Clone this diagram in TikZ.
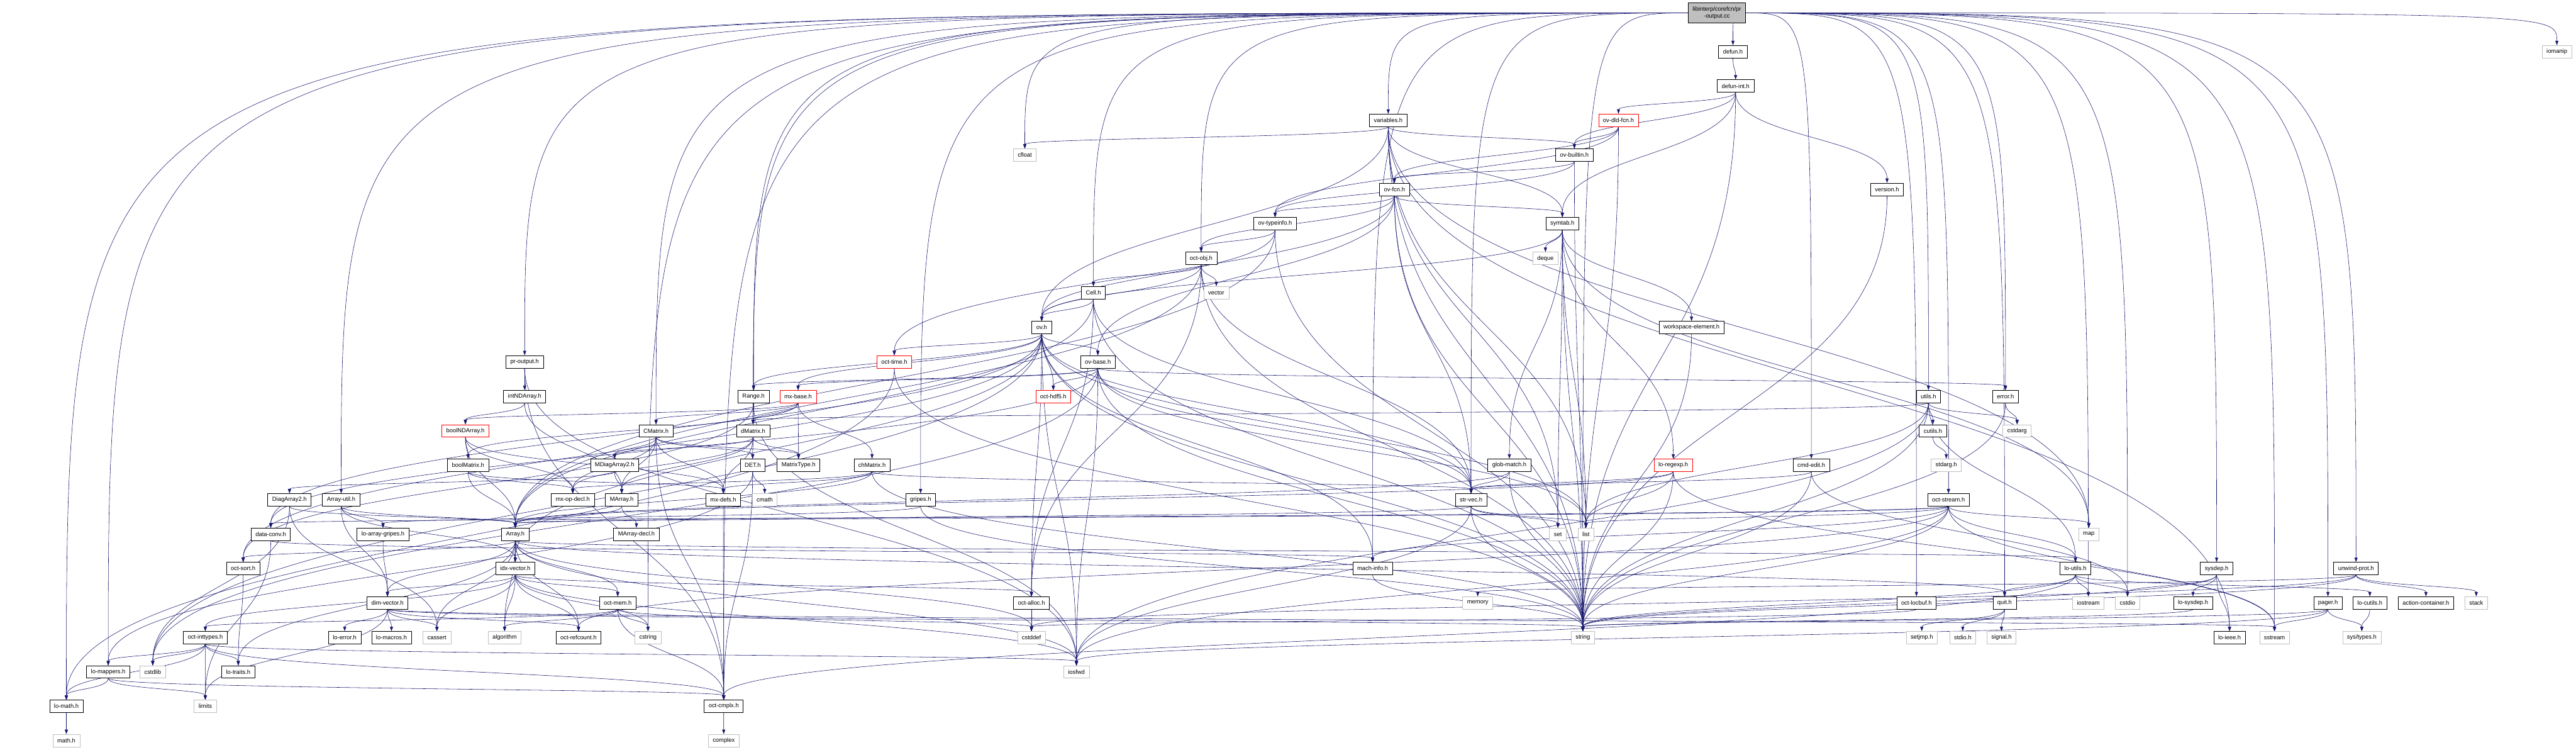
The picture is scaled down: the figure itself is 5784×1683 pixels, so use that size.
\documentclass[tikz,border=0pt]{standalone}
\usepackage{fontspec}
\setmainfont{Liberation Sans}
\usetikzlibrary{arrows.meta,calc}
\definecolor{edgeblue}{RGB}{25,25,112}
\definecolor{sysgray}{RGB}{191,191,191}
\pgfdeclarelayer{background}
\pgfsetlayers{background,main}

\begin{document}
\begin{tikzpicture}[x=1bp, y=-1bp,
  hdr/.style={draw=black, fill=white, line width=1bp, minimum height=28bp,
    inner xsep=10bp, inner ysep=0pt, font=\fontsize{13.3}{15}\selectfont},
  syshdr/.style={hdr, draw=sysgray},
  redhdr/.style={hdr, draw=red},
  srcfile/.style={hdr, fill=sysgray, align=center, minimum height=45bp},
  incl/.style={draw=edgeblue, line width=0.8bp, -{Triangle[length=10bp,width=7bp]},
    to path={(\tikztostart.south) .. controls ($(\tikztostart.south)!0.5!(\tikztostart.south |- \tikztotarget.north)$)
      and ($(\tikztotarget.north)!0.5!(\tikztotarget.north |- \tikztostart.south)$) .. (\tikztotarget.north)}},
  fromsrc/.style={draw=edgeblue, line width=0.8bp, -{Triangle[length=10bp,width=7bp]}}]
  \useasboundingbox (0,0) rectangle (5784,1683);

  % the file itself
  \node[srcfile] (src) at (3855,29) {libinterp/corefcn/pr\\-output.cc};
  % rows 1-6
  \node[hdr] (defun) at (3891,116) {defun.h};
  \node[syshdr] (iomanip) at (5741,116) {iomanip};
  \node[hdr] (defunint) at (3897,193) {defun-int.h};
  \node[hdr] (variables) at (3117,270) {variables.h};
  \node[redhdr] (ovdld) at (3634,270) {ov-dld-fcn.h};
  \node[syshdr] (cfloat) at (2301,348) {cfloat};
  \node[hdr] (ovbuiltin) at (3535,348) {ov-builtin.h};
  \node[hdr] (ovfcn) at (3131,425) {ov-fcn.h};
  \node[hdr] (version) at (4237,425) {version.h};
  \node[hdr] (ovtypeinfo) at (2863,502) {ov-typeinfo.h};
  \node[hdr] (symtab) at (3508,502) {symtab.h};
  % rows 7-10
  \node[hdr] (octobj) at (2697,580) {oct-obj.h};
  \node[syshdr] (deque) at (3470,580) {deque};
  \node[hdr] (cell) at (2455,657) {Cell.h};
  \node[syshdr] (vector) at (2731,657) {vector};
  \node[hdr] (ov) at (2339,735) {ov.h};
  \node[hdr] (workspace) at (3798,735) {workspace-element.h};
  \node[hdr] (proutput) at (1178,812) {pr-output.h};
  \node[redhdr] (octtime) at (2008,812) {oct-time.h};
  \node[hdr] (ovbase) at (2465,812) {ov-base.h};
  % rows 11-13
  \node[hdr] (intND) at (1178,890) {intNDArray.h};
  \node[hdr] (Range) at (1692,890) {Range.h};
  \node[redhdr] (mxbase) at (1792,890) {mx-base.h};
  \node[redhdr] (octhdf) at (2365,890) {oct-hdf5.h};
  \node[hdr] (utils) at (4330,890) {utils.h};
  \node[hdr] (error) at (4503,890) {error.h};
  \node[redhdr] (boolND) at (1045,967) {boolNDArray.h};
  \node[hdr] (CMatrix) at (1473,967) {CMatrix.h};
  \node[hdr] (dMatrix) at (1691,967) {dMatrix.h};
  \node[hdr] (cutils) at (4340,967) {cutils.h};
  \node[syshdr] (cstdarg) at (4529,967) {cstdarg};
  \node[hdr] (boolM) at (1051,1044) {boolMatrix.h};
  \node[hdr] (MDiag) at (1380,1044) {MDiagArray2.h};
  \node[hdr] (DET) at (1690,1044) {DET.h};
  \node[hdr] (MType) at (1793,1044) {MatrixType.h};
  \node[hdr] (chMatrix) at (1958,1044) {chMatrix.h};
  \node[hdr] (globmatch) at (3389,1044) {glob-match.h};
  \node[redhdr] (loregexp) at (3757,1044) {lo-regexp.h};
  \node[hdr] (cmdedit) at (4067,1044) {cmd-edit.h};
  \node[syshdr] (stdarg) at (4370,1044) {stdarg.h};
  % rows 14-16
  \node[hdr] (Diag) at (650,1122) {DiagArray2.h};
  \node[hdr] (ArrUtil) at (766,1122) {Array-util.h};
  \node[hdr] (mxopdecl) at (1286,1122) {mx-op-decl.h};
  \node[hdr] (MArray) at (1396,1122) {MArray.h};
  \node[hdr] (mxdefs) at (1624,1122) {mx-defs.h};
  \node[syshdr] (cmath) at (1717,1122) {cmath};
  \node[hdr] (gripes) at (2067,1122) {gripes.h};
  \node[hdr] (strvec) at (3303,1122) {str-vec.h};
  \node[hdr] (octstream) at (4375,1122) {oct-stream.h};
  \node[hdr] (dataconv) at (608,1199) {data-conv.h};
  \node[hdr] (loarrg) at (860,1199) {lo-array-gripes.h};
  \node[hdr] (Array) at (1157,1199) {Array.h};
  \node[hdr] (MArrdecl) at (1429,1199) {MArray-decl.h};
  \node[syshdr] (set) at (3498,1199) {set};
  \node[syshdr] (list) at (3561,1199) {list};
  \node[syshdr] (map) at (4690,1199) {map};
  \node[hdr] (octsort) at (546,1276) {oct-sort.h};
  \node[hdr] (idxvec) at (1157,1276) {idx-vector.h};
  \node[hdr] (machinfo) at (3082,1276) {mach-info.h};
  \node[hdr] (loutils) at (4660,1276) {lo-utils.h};
  \node[hdr] (sysdep) at (4977,1276) {sysdep.h};
  \node[hdr] (unwind) at (5290,1276) {unwind-prot.h};
  % row 17
  \node[hdr] (dimvec) at (870,1353) {dim-vector.h};
  \node[hdr] (octmem) at (1387,1353) {oct-mem.h};
  \node[hdr] (octalloc) at (2316,1353) {oct-alloc.h};
  \node[syshdr] (memory) at (3318,1353) {memory};
  \node[hdr] (octlocbuf) at (4303,1353) {oct-locbuf.h};
  \node[hdr] (quit) at (4501,1353) {quit.h};
  \node[syshdr] (iostream) at (4689,1353) {iostream};
  \node[syshdr] (cstdio) at (4777,1353) {cstdio};
  \node[hdr] (losysdep) at (4924,1353) {lo-sysdep.h};
  \node[hdr] (pager) at (5227,1353) {pager.h};
  \node[hdr] (locutils) at (5321,1353) {lo-cutils.h};
  \node[hdr] (actcont) at (5447,1353) {action-container.h};
  \node[syshdr] (stack) at (5560,1353) {stack};
  % row 18
  \node[hdr] (octint) at (461,1431) {oct-inttypes.h};
  \node[hdr] (loerror) at (774,1431) {lo-error.h};
  \node[hdr] (lomacros) at (879,1431) {lo-macros.h};
  \node[syshdr] (cassert) at (981,1431) {cassert};
  \node[syshdr] (algorithm) at (1133,1431) {algorithm};
  \node[hdr] (octref) at (1299,1431) {oct-refcount.h};
  \node[syshdr] (cstring) at (1455,1431) {cstring};
  \node[syshdr] (cstddef) at (2316,1431) {cstddef};
  \node[syshdr] (string) at (3554,1431) {string};
  \node[syshdr] (setjmp) at (4315,1431) {setjmp.h};
  \node[syshdr] (stdio) at (4407,1431) {stdio.h};
  \node[syshdr] (signal) at (4494,1431) {signal.h};
  \node[hdr] (loieee) at (5006,1431) {lo-ieee.h};
  \node[syshdr] (sstream) at (5107,1431) {sstream};
  \node[syshdr] (systypes) at (5303,1431) {sys/types.h};
  % rows 19-21
  \node[hdr] (lomappers) at (243,1508) {lo-mappers.h};
  \node[syshdr] (cstdlib) at (343,1508) {cstdlib};
  \node[hdr] (lotraits) at (535,1508) {lo-traits.h};
  \node[syshdr] (iosfwd) at (2417,1508) {iosfwd};
  \node[hdr] (lomath) at (149,1585) {lo-math.h};
  \node[syshdr] (limits) at (461,1585) {limits};
  \node[hdr] (octcmplx) at (1625,1585) {oct-cmplx.h};
  \node[syshdr] (mathh) at (149,1662) {math.h};
  \node[syshdr] (complex) at (1625,1662) {complex};

  \begin{pgfonlayer}{background}
    \fill[white] (0,0) rectangle (5784,1683);
    % includes of pr-output.cc
    \foreach \h in {defun, variables, cfloat, iomanip, cstdio, cstring, iostream, sstream, string,
        ArrUtil, CMatrix, Range, cmdedit, dMatrix, lomappers, lomath, machinfo, octcmplx, quit,
        strvec, cell, error, gripes, octobj, octstream, pager, proutput, sysdep, unwind, utils, octlocbuf}
      \draw[fromsrc] (src) .. controls (\h |- src) .. (\h);
    % header includes
    \foreach \h in {defunint} \draw[incl] (defun) to (\h);
    \foreach \h in {ovdld, ovbuiltin, symtab, version, string} \draw[incl] (defunint) to (\h);
    \foreach \h in {cfloat, ov, ovbuiltin, symtab, list, map, set, string, loieee} \draw[incl] (variables) to (\h);
    \foreach \h in {ovbuiltin, ovfcn, ovtypeinfo, string} \draw[incl] (ovdld) to (\h);
    \foreach \h in {ovfcn, ovtypeinfo, string} \draw[incl] (ovbuiltin) to (\h);
    \foreach \h in {ovtypeinfo, symtab, octobj, octtime, ovbase, strvec, string} \draw[incl] (ovfcn) to (\h);
    \foreach \h in {string} \draw[incl] (version) to (\h);
    \foreach \h in {octobj, ov, Array, string} \draw[incl] (ovtypeinfo) to (\h);
    \foreach \h in {deque, ov, workspace, globmatch, loregexp, list, map, set, string} \draw[incl] (symtab) to (\h);
    \foreach \h in {cell, vector, ov, strvec, Array, octalloc, string} \draw[incl] (octobj) to (\h);
    \foreach \h in {ov, strvec, Array, octalloc, string} \draw[incl] (cell) to (\h);
    \foreach \h in {octtime, ovbase, Range, mxbase, octhdf, strvec, dataconv, list, idxvec, machinfo,
        octsort, octalloc, string, cstdlib, iosfwd} \draw[incl] (ov) to (\h);
    \foreach \h in {string} \draw[incl] (workspace) to (\h);
    \foreach \h in {lomath, string} \draw[incl] (octtime) to (\h);
    \foreach \h in {Range, mxbase, octhdf, error, strvec, dataconv, list, string, cstdlib, iosfwd} \draw[incl] (ovbase) to (\h);
    \foreach \h in {intND, octcmplx, iosfwd} \draw[incl] (proutput) to (\h);
    \foreach \h in {boolND, MArray} \draw[incl] (intND) to (\h);
    \foreach \h in {dMatrix, octsort, iosfwd} \draw[incl] (Range) to (\h);
    \foreach \h in {boolND, CMatrix, dMatrix, boolM, MType, chMatrix} \draw[incl] (mxbase) to (\h);
    \foreach \h in {dMatrix, cutils, cstdarg, loutils, list, string, iosfwd} \draw[incl] (utils) to (\h);
    \foreach \h in {cstdarg, string} \draw[incl] (error) to (\h);
    \foreach \h in {boolM, mxopdecl, mxdefs, Array} \draw[incl] (boolND) to (\h);
    \foreach \h in {MDiag, DET, MType, MArray, mxopdecl, mxdefs, octcmplx} \draw[incl] (CMatrix) to (\h);
    \foreach \h in {MDiag, DET, MType, MArray, mxopdecl, mxdefs} \draw[incl] (dMatrix) to (\h);
    \foreach \h in {stdarg} \draw[incl] (cutils) to (\h);
    \foreach \h in {mxopdecl, mxdefs, Array} \draw[incl] (boolM) to (\h);
    \foreach \h in {Diag, MArray} \draw[incl] (MDiag) to (\h);
    \foreach \h in {cmath, lomappers, octcmplx} \draw[incl] (DET) to (\h);
    \foreach \h in {mxopdecl, mxdefs, strvec, Array, string} \draw[incl] (chMatrix) to (\h);
    \foreach \h in {strvec, Array, string} \draw[incl] (globmatch) to (\h);
    \foreach \h in {strvec, Array, list, string, sstream} \draw[incl] (loregexp) to (\h);
    \foreach \h in {strvec, cstdio, string} \draw[incl] (cmdedit) to (\h);
    \foreach \h in {Array, cassert, cstdlib} \draw[incl] (Diag) to (\h);
    \foreach \h in {Array, loarrg, idxvec, dimvec} \draw[incl] (ArrUtil) to (\h);
    \foreach \h in {Array, MArrdecl} \draw[incl] (MArray) to (\h);
    \foreach \h in {octcmplx} \draw[incl] (mxdefs) to (\h);
    \foreach \h in {loarrg, string} \draw[incl] (gripes) to (\h);
    \foreach \h in {Array, set, list, string, iosfwd} \draw[incl] (strvec) to (\h);
    \foreach \h in {Array, dataconv, machinfo, loutils, map, list, octref, string, sstream, iosfwd} \draw[incl] (octstream) to (\h);
    \foreach \h in {machinfo, limits} \draw[incl] (dataconv) to (\h);
    \foreach \h in {dimvec} \draw[incl] (loarrg) to (\h);
    \foreach \h in {idxvec, dimvec, octsort, octmem, loutils, quit, cassert, algorithm, octref, cstddef,
        lotraits, iosfwd} \draw[incl] (Array) to (\h);
    \foreach \h in {lotraits} \draw[incl] (octsort) to (\h);
    \foreach \h in {dimvec, octmem, octalloc, octint, cassert, algorithm, octref, cstring, iosfwd} \draw[incl] (idxvec) to (\h);
    \foreach \h in {string} \draw[incl] (machinfo) to (\h);
    \foreach \h in {quit, iostream, cstdio, locutils, string, octcmplx} \draw[incl] (loutils) to (\h);
    \foreach \h in {losysdep, cstdio, loieee, string} \draw[incl] (sysdep) to (\h);
    \foreach \h in {actcont, stack, memory, cstddef, string} \draw[incl] (unwind) to (\h);
    \foreach \h in {loerror, lomacros, cassert, octref, string, sstream, limits} \draw[incl] (dimvec) to (\h);
    \foreach \h in {octint, algorithm, cstring, cstddef, octcmplx} \draw[incl] (octmem) to (\h);
    \foreach \h in {cstddef} \draw[incl] (octalloc) to (\h);
    \foreach \h in {cstddef} \draw[incl] (octlocbuf) to (\h);
    \foreach \h in {setjmp, stdio, signal} \draw[incl] (quit) to (\h);
    \foreach \h in {string} \draw[incl] (losysdep) to (\h);
    \foreach \h in {sstream, systypes, string, iosfwd} \draw[incl] (pager) to (\h);
    \foreach \h in {systypes} \draw[incl] (locutils) to (\h);
    \foreach \h in {lomappers, cstdlib, lotraits, lomath, limits, octcmplx, iosfwd} \draw[incl] (octint) to (\h);
    \foreach \h in {lomath, limits, octcmplx} \draw[incl] (lomappers) to (\h);
    \foreach \h in {mathh} \draw[incl] (lomath) to (\h);
    \foreach \h in {complex} \draw[incl] (octcmplx) to (\h);
  \end{pgfonlayer}
\end{tikzpicture}
\end{document}
